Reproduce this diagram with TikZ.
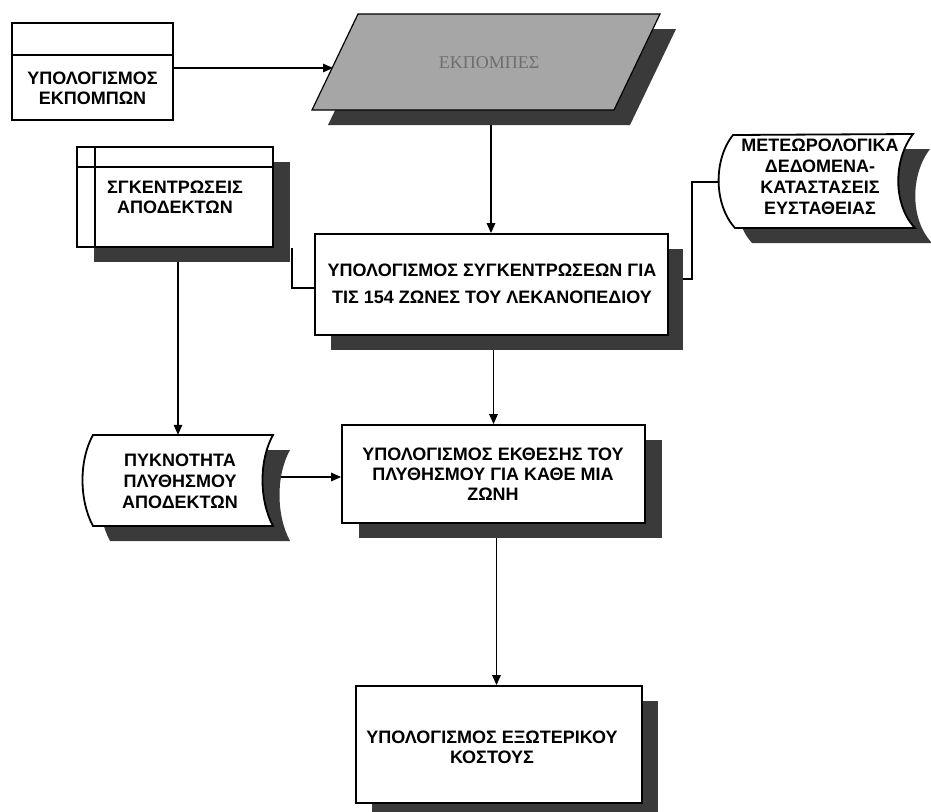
\documentclass[tikz,border=0pt]{standalone}
\usepackage{fontspec}
\setmainfont{Liberation Sans}
\newfontfamily\serifgr{Liberation Serif}
\usetikzlibrary{arrows.meta,fit,calc}
\pgfdeclarelayer{background}
\pgfdeclarelayer{paper}
\pgfsetlayers{paper,background,main}
\definecolor{shad}{HTML}{3A3A3A}
\definecolor{dotfill}{HTML}{A6A6A6}
\definecolor{dimtext}{HTML}{6E6E6E}
\begin{document}
\begin{tikzpicture}[x=1pt,y=-1pt,
  boxline/.style={draw=black,line width=1.8pt,fill=white},
  fitbox/.style={inner sep=0pt},
  txt/.style={font=\bfseries\fontsize{18}{20}\selectfont,align=center,inner sep=0pt},
  conn/.style={draw=black,line width=1.4pt},
  arr/.style={conn,-{Triangle[length=10pt,width=8.5pt]}},
]
\begin{pgfonlayer}{paper}
\fill[white] (0,0) rectangle (931,811);
\end{pgfonlayer}
\useasboundingbox (0,0) rectangle (931,811);

% ---------- top-left box
\node[boxline,fitbox,fit={(12,23) (173,120)}] (tl) {};
\draw[line width=1.8pt] (12,55) -- (173,55);
\node[txt] (tlT) at (92.5,88) {ΥΠΟΛΟΓΙΣΜΟΣ\\ΕΚΠΟΜΠΩΝ};

% ---------- parallelogram (data)
\fill[shad,shift={(16,15)}] (358,14) -- (660,14) -- (614,110) -- (312,110) -- cycle;
\draw[fill=dotfill,line width=1.2pt] (358,14) -- (660,14) -- (614,110) -- (312,110) -- cycle;
\node[font=\serifgr\fontsize{18}{20}\selectfont,text=dimtext,inner sep=0pt] (par) at (489,63) {ΕΚΠΟΜΠΕΣ};
\coordinate (parL) at (333,68);
\coordinate (parB) at (491,110);

% ---------- meteo (stored data)
\fill[shad,shift={(17,15)}] (733,135) -- (913,134) .. controls (893,160) and (893,205) .. (915,228) -- (735,228) .. controls (714,205) and (713,160) .. (733,135) -- cycle;
\draw[boxline] (733,135) -- (913,134) .. controls (893,160) and (893,205) .. (915,228) -- (735,228) .. controls (714,205) and (713,160) .. (733,135) -- cycle;
\node[fitbox,fit={(733,134) (915,228)}] (met) {};
\node[txt,font=\bfseries\fontsize{18}{21}\selectfont] (metT) at (820,176.5) {ΜΕΤΕΩΡΟΛΟΓΙΚΑ\\ΔΕΔΟΜΕΝΑ-\\ΚΑΤΑΣΤΑΣΕΙΣ\\ΕΥΣΤΑΘΕΙΑΣ};

% ---------- sgkentroseis
\fill[shad] (94,162) rectangle (290,262);
\node[boxline,fitbox,fit={(77,147) (273,247)}] (sgk) {};
\draw[line width=1.8pt] (95,147) -- (95,247) (77,167) -- (273,167);
\node[txt] (sgkT) at (175,197) {ΣΓΚΕΝΤΡΩΣΕΙΣ\\ΑΠΟΔΕΚΤΩΝ};

% ---------- central box
\fill[shad] (331,249) rectangle (683,350);
\node[boxline,fitbox,fit={(315,234) (668,335)}] (cen) {};
\node[txt,font=\bfseries\fontsize{18}{27}\selectfont] (cenT) at (492,283.5) {ΥΠΟΛΟΓΙΣΜΟΣ ΣΥΓΚΕΝΤΡΩΣΕΩΝ ΓΙΑ\\ΤΙΣ 154 ΖΩΝΕΣ ΤΟΥ ΛΕΚΑΝΟΠΕΔΙΟΥ};

% ---------- pyknotita (stored data)
\fill[shad,shift={(17,15)}] (93,435) -- (273,435) .. controls (259,460) and (259,500) .. (273,526) -- (93,526) .. controls (79,500) and (79,460) .. (93,435) -- cycle;
\draw[boxline] (93,435) -- (273,435) .. controls (259,460) and (259,500) .. (273,526) -- (93,526) .. controls (79,500) and (79,460) .. (93,435) -- cycle;
\node[fitbox,fit={(93,435) (273,526)}] (pyk) {};
\node[txt,font=\bfseries\fontsize{18}{21}\selectfont] (pykT) at (180,481) {ΠΥΚΝΟΤΗΤΑ\\ΠΛΥΘΗΣΜΟΥ\\ΑΠΟΔΕΚΤΩΝ};

% ---------- ektheseos box
\fill[shad] (359,440) rectangle (662,538);
\node[boxline,fitbox,fit={(342,425) (645,523)}] (ekt) {};
\node[txt] (ektT) at (493,474) {ΥΠΟΛΟΓΙΣΜΟΣ ΕΚΘΕΣΗΣ ΤΟΥ\\ΠΛΥΘΗΣΜΟΥ ΓΙΑ ΚΑΘΕ ΜΙΑ\\ΖΩΝΗ};

% ---------- bottom box
\fill[shad] (372,701) rectangle (658,825);
\node[boxline,fitbox,fit={(356,686) (642,803)}] (bot) {};
\node[txt] (botT) at (492,747) {ΥΠΟΛΟΓΙΣΜΟΣ ΕΞΩΤΕΡΙΚΟΥ\\ΚΟΣΤΟΥΣ};

% ---------- connectors
\coordinate (metL) at (728,182);
\coordinate (mj) at (692,279);
\coordinate (sj) at (292,288);
\begin{pgfonlayer}{background}
\draw[arr] (tl.east |- parL) -- (parL);
\draw[arr] (parB) -- (parB |- cen.north);
\draw[conn] (metL) -| (mj) -- (mj -| cen.east);
\draw[conn] (sgk.south -| sj) |- (cen.west |- sj);
\draw[arr] ([xshift=3pt]sgk.south) -- ([xshift=3pt]sgk.south |- pyk.north);
\draw[arr] (pyk.east |- 0,477) -- (ekt.west |- 0,477);
\draw[arr] ([xshift=2pt]cen.south) -- ([xshift=2pt]cen.south |- ekt.north);
\draw[arr] ([xshift=3pt]ekt.south) -- ([xshift=3pt]ekt.south |- bot.north);
\end{pgfonlayer}
\end{tikzpicture}
\end{document}
